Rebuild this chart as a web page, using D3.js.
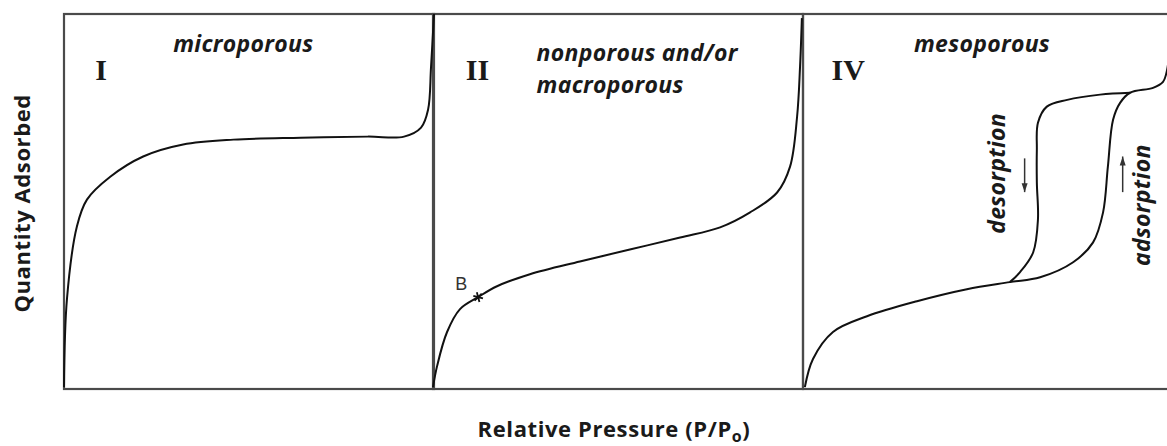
<!DOCTYPE html>
<html><head><meta charset="utf-8">
<script src="https://cdn.jsdelivr.net/npm/d3@7"></script>
<style>
body{margin:0;background:#fff;}
svg{display:block;}
</style></head>
<body>
<svg id="chart" width="1167" height="446"></svg>
<script>
// ---- Data (relative pressure P/Po 0..1, quantity adsorbed 0..1 per panel) ----
const panelNames = ["I", "II", "IV"];
const panelTitles = [["microporous"], ["nonporous and/or", "macroporous"], ["mesoporous"]];

const typeI_x = [0, 0.008, 0.035, 0.062, 0.125, 0.214, 0.322, 0.458, 0.64, 0.821, 0.919, 0.965, 0.984, 0.992, 1.0];
const typeI_y = [0.005, 0.24, 0.434, 0.505, 0.566, 0.62, 0.652, 0.665, 0.67, 0.673, 0.673, 0.697, 0.745, 0.859, 1.0];

const typeII_x = [0, 0.011, 0.038, 0.073, 0.122, 0.173, 0.262, 0.397, 0.532, 0.668, 0.776, 0.857, 0.93, 0.965, 0.984, 0.992, 0.997];
const typeII_y = [0.005, 0.061, 0.152, 0.213, 0.245, 0.274, 0.306, 0.34, 0.372, 0.404, 0.431, 0.471, 0.524, 0.593, 0.726, 0.859, 0.989];

const pointB = {x: 0.122, y: 0.245, label: "B"};

const typeIVads_x = [0.005, 0.027, 0.081, 0.173, 0.308, 0.443, 0.559, 0.641, 0.73, 0.784, 0.811, 0.824, 0.838, 0.857, 0.884, 0.946, 0.973, 0.984, 0.997];
const typeIVads_y = [0.005, 0.08, 0.152, 0.194, 0.234, 0.266, 0.285, 0.298, 0.338, 0.391, 0.471, 0.593, 0.718, 0.763, 0.79, 0.803, 0.819, 0.851, 0.984];

const typeIVdes_x = [0.884, 0.803, 0.714, 0.659, 0.635, 0.632, 0.632, 0.635, 0.622, 0.586, 0.559];
const typeIVdes_y = [0.79, 0.785, 0.771, 0.753, 0.71, 0.638, 0.551, 0.452, 0.364, 0.311, 0.285];

const xAxisLabel = "Relative Pressure (P/P";
const xAxisSub = "o";
const yAxisLabel = "Quantity Adsorbed";

// ---- Layout ----
const svg = d3.select("#chart");
const plotTop = 14, plotBottom = 389;
const panelLefts = [64, 433, 803];
const panelWidth = 370;
const y = d3.scaleLinear().domain([0, 1]).range([plotBottom, plotTop]);
const xs = panelLefts.map(l => d3.scaleLinear().domain([0, 1]).range([l, l + panelWidth]));

const line = (xsc) => d3.line().x(d => xsc(d[0])).y(d => y(d[1])).curve(d3.curveCatmullRom.alpha(0.5));
const zip = (a, b) => a.map((v, i) => [v, b[i]]);

// frames
panelLefts.forEach((l, i) => {
  svg.append("rect")
    .attr("x", xs[i](0)).attr("y", y(1))
    .attr("width", xs[i](1) - xs[i](0)).attr("height", y(0) - y(1))
    .attr("fill", "none").attr("stroke", "#4a4a4a").attr("stroke-width", 2.2);
});

const curveStyle = sel => sel.attr("fill", "none").attr("stroke", "#111").attr("stroke-width", 2);

svg.append("path").datum(zip(typeI_x, typeI_y)).attr("d", line(xs[0])).call(curveStyle);
svg.append("path").datum(zip(typeII_x, typeII_y)).attr("d", line(xs[1])).call(curveStyle);
svg.append("path").datum(zip(typeIVads_x, typeIVads_y)).attr("d", line(xs[2])).call(curveStyle);
svg.append("path").datum(zip(typeIVdes_x, typeIVdes_y)).attr("d", line(xs[2])).call(curveStyle);

// roman numerals
const numPos = [[0.1, 0.825], [0.12, 0.825], [0.122, 0.825]];
panelNames.forEach((n, i) => {
  svg.append("text").attr("x", xs[i](numPos[i][0])).attr("y", y(numPos[i][1]))
    .attr("text-anchor", "middle")
    .attr("font-family", "'Liberation Serif', 'DejaVu Serif', serif")
    .attr("font-weight", "bold").attr("font-size", 30).attr("fill", "#1a1a1a").text(n);
});

// titles
const titleFont = sel => sel.attr("font-family", "'Open Sans', sans-serif").attr("font-style", "italic")
  .attr("font-weight", 700).attr("font-size", 23).attr("letter-spacing", 0.3).attr("fill", "#1a1a1a");
const titlePos = [[0.295, 0.898], [0.28, 0.875], [0.3, 0.898]];
panelTitles.forEach((lines, i) => {
  lines.forEach((t, j) => {
    svg.append("text").attr("x", xs[i](titlePos[i][0])).attr("y", y(titlePos[i][1]) + j * 32)
      .call(titleFont).text(t);
  });
});

// point B
const bx = xs[1](pointB.x), by = y(pointB.y);
svg.append("path").attr("d", d3.symbol(d3.symbolAsterisk, 70)())
  .attr("transform", `translate(${bx},${by}) rotate(45)`).attr("stroke", "#111").attr("stroke-width", 1.8).attr("fill", "none");
svg.append("text").attr("x", bx - 23).attr("y", by - 7)
  .attr("font-family", "'Liberation Sans', Arial, sans-serif").attr("font-size", 18).attr("fill", "#333").text(pointB.label);

// desorption / adsorption labels with arrows
function vlabel(text, px, py) {
  svg.append("text").attr("transform", `translate(${px},${py}) rotate(-90)`)
    .attr("text-anchor", "middle").call(titleFont).text(text);
}
vlabel("desorption", xs[2](0.545), y(0.575));
vlabel("adsorption", xs[2](0.937), y(0.49));

function arrow(px, y1, y2) {
  svg.append("line").attr("x1", px).attr("x2", px).attr("y1", y1).attr("y2", y2)
    .attr("stroke", "#333").attr("stroke-width", 1.5);
  const dir = Math.sign(y2 - y1);
  svg.append("path").attr("d", `M${px - 3},${y2 - dir * 9} L${px + 3},${y2 - dir * 9} L${px},${y2} Z`).attr("fill", "#333");
}
arrow(xs[2](0.599), y(0.615), y(0.525));
arrow(xs[2](0.864), y(0.525), y(0.62));

// axis titles
const axisFont = sel => sel.attr("font-family", "'Open Sans', sans-serif").attr("font-weight", "bold")
  .attr("font-size", 22).attr("letter-spacing", 0.6).attr("fill", "#1a1a1a");
svg.append("text").attr("transform", `translate(30, ${y(0.495)}) rotate(-90)`)
  .attr("text-anchor", "middle").call(axisFont).text(yAxisLabel);

const xt = svg.append("text").attr("x", 614).attr("y", 437)
  .attr("text-anchor", "middle").call(axisFont);
xt.append("tspan").text(xAxisLabel);
xt.append("tspan").attr("font-size", 16).attr("dy", 5).text(xAxisSub);
xt.append("tspan").attr("dy", -5).text(")");
</script>
</body></html>
